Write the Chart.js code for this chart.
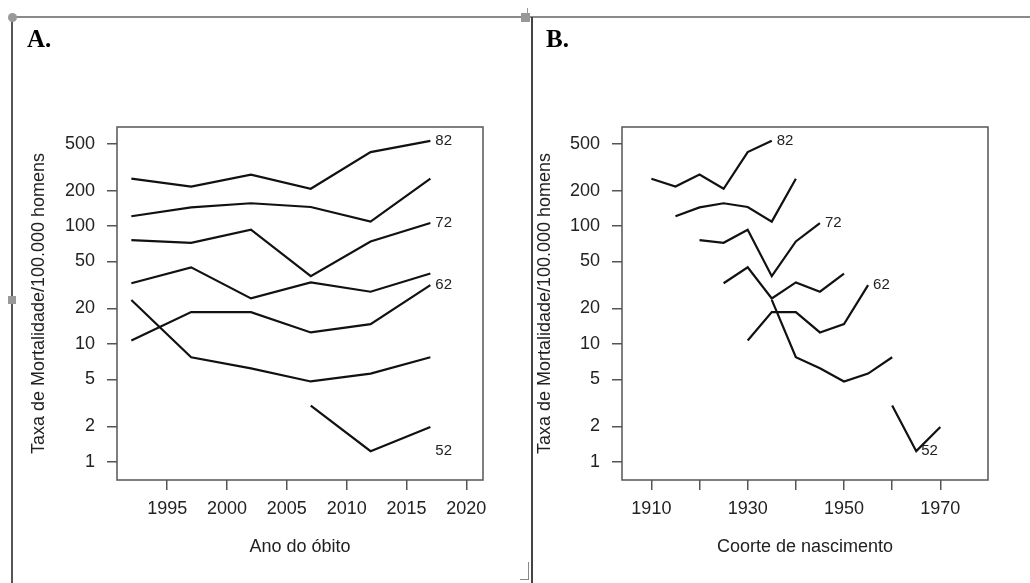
<!DOCTYPE html>
<html>
<head>
<meta charset="utf-8">
<script src="https://cdn.jsdelivr.net/npm/chart.js@4.4.0/dist/chart.umd.min.js"></script>
<style>
body { margin: 0; background: #fff; }
#wrap { position: relative; width: 1030px; height: 583px; overflow: hidden; background: #fff; }
canvas { position: absolute; top: 0; }
.ln { position: absolute; background: #7a7a7a; }
.tag { position: absolute; font: bold 25px "Liberation Serif", serif; line-height: 25px; color: #000; }
</style>
</head>
<body>
<div id="wrap">
  <canvas id="graphA" width="520" height="583" style="left:0;width:520px;height:583px"></canvas>
  <canvas id="graphB" width="510" height="583" style="left:520px;width:510px;height:583px"></canvas>

  <!-- frame of the pasted picture -->
  <div class="ln" style="left:12px;top:16px;width:1018px;height:2px;background:#8a8a8a"></div>
  <div class="ln" style="left:11px;top:17px;width:2px;height:566px;background:#555"></div>
  <div class="ln" style="left:531px;top:17px;width:2px;height:566px;background:#444"></div>
  <div class="ln" style="left:8px;top:13px;width:9px;height:9px;border-radius:50%;background:#999"></div>
  <div class="ln" style="left:521px;top:13px;width:9px;height:9px;background:#999"></div>
  <div class="ln" style="left:527px;top:8px;width:1px;height:6px;background:#999"></div>
  <div class="ln" style="left:8px;top:296px;width:8px;height:8px;background:#999"></div>
  <div class="ln" style="left:528px;top:562px;width:1px;height:18px;background:#888"></div>
  <div class="ln" style="left:520px;top:579px;width:9px;height:1px;background:#888"></div>

  <div class="tag" style="left:27px;top:26px">A.</div>
  <div class="tag" style="left:546px;top:26px">B.</div>
</div>

<script>
// ages (start of group) and years of death
const ages = [82, 77, 72, 67, 62, 57, 52];
const deathYears = [1992, 1997, 2002, 2007, 2012, 2017];

// mortality rate per 100.000 men, one array per age group
const rate82 = [252, 216, 273, 207, 424, 528];
const rate77 = [121, 144, 156, 145, 109, 252];
const rate72 = [76, 72, 93, 37.5, 74, 106];
const rate67 = [32.7, 44.6, 24.3, 33.2, 27.7, 39.5];
const rate62 = [10.7, 18.6, 18.6, 12.5, 14.7, 31.5];
const rate57 = [23.6, 7.7, 6.2, 4.8, 5.6, 7.7];
const rate52 = [null, null, null, 3.0, 1.23, 1.97];
const rates = [rate82, rate77, rate72, rate67, rate62, rate57, rate52];

// year - shift = birth cohort as drawn in panel B
const cohortShift = [82, 77, 72, 67, 62, 57, 47];

// ticks
const yTickVals = [1, 2, 5, 10, 20, 50, 100, 200, 500];
const yearTicks = [1995, 2000, 2005, 2010, 2015, 2020];
const cohortTicks = [1910, 1920, 1930, 1940, 1950, 1960, 1970];
const cohortTickLabels = [1910, 1930, 1950, 1970];

// labels at the end of some lines
const endLabels = ['82', '72', '62', '52'];
const endLabelRate = [528, 106, 31.5, 1.23];
const endLabelYearA = [2017, 2017, 2017, 2017];
const endLabelCohortB = [1935, 1945, 1955, 1965];

const fontName = '"Liberation Sans", Arial, sans-serif';
const txtColor = '#222';

// box round the plot + the age labels
const boxAndLabels = {
    id: 'boxAndLabels',
    afterDatasetsDraw(chart, args, opts) {
        const ctx = chart.ctx;
        const a = chart.chartArea;
        ctx.save();
        ctx.strokeStyle = '#555';
        ctx.lineWidth = 1.5;
        ctx.strokeRect(a.left, a.top, a.right - a.left, a.bottom - a.top);
        ctx.font = '15px ' + fontName;
        ctx.fillStyle = txtColor;
        ctx.textAlign = 'left';
        ctx.textBaseline = 'middle';
        opts.xs.forEach((x, i) => {
            ctx.fillText(endLabels[i],
                chart.scales.x.getPixelForValue(x) + 5,
                chart.scales.y.getPixelForValue(endLabelRate[i]));
        });
        ctx.restore();
    }
};

function makePanel(id, xs, xMin, xMax, xTicks, xShown, xTitle, leftW, titlePad, rightPad, labelXs) {
    let datasets = rates.map((r, k) => ({
        label: String(ages[k]),
        data: r.map((v, i) => ({ x: xs(k, i), y: v })).filter(p => p.y !== null),
        borderColor: '#111',
        borderWidth: 2.2,
        pointRadius: 0,
        tension: 0,
        fill: false
    }));

    let ctx = document.getElementById(id).getContext('2d');
    return new Chart(ctx, {
        type: 'line',
        data: { datasets: datasets },
        options: {
            responsive: false,
            animation: false,
            devicePixelRatio: 1,
            layout: { padding: { top: 127, right: rightPad, bottom: 0, left: 0 } },
            plugins: {
                legend: { display: false },
                tooltip: { enabled: false },
                boxAndLabels: { xs: labelXs }
            },
            scales: {
                x: {
                    type: 'linear',
                    min: xMin,
                    max: xMax,
                    afterBuildTicks: s => { s.ticks = xTicks.map(v => ({ value: v })); },
                    afterFit: s => { s.height = 103; },
                    ticks: {
                        autoSkip: false,
                        maxRotation: 0,
                        padding: 8,
                        color: txtColor,
                        font: { family: fontName, size: 18 },
                        callback: v => xShown.includes(v) ? String(v) : ''
                    },
                    grid: { drawOnChartArea: false, tickLength: 10, color: '#555', lineWidth: 1.5 },
                    border: { display: false },
                    title: {
                        display: true,
                        text: xTitle,
                        color: txtColor,
                        font: { family: fontName, size: 18 },
                        padding: { top: 0, bottom: 25 }
                    }
                },
                y: {
                    type: 'logarithmic',
                    min: 0.748,
                    max: 692,
                    afterBuildTicks: s => { s.ticks = yTickVals.map(v => ({ value: v })); },
                    afterFit: s => { s.width = leftW; },
                    ticks: {
                        autoSkip: false,
                        padding: 12,
                        color: txtColor,
                        font: { family: fontName, size: 18 },
                        callback: v => String(v)
                    },
                    grid: { drawOnChartArea: false, tickLength: 10, color: '#555', lineWidth: 1.5 },
                    border: { display: false },
                    title: {
                        display: true,
                        text: 'Taxa de Mortalidade/100.000 homens',
                        color: txtColor,
                        font: { family: fontName, size: 18 },
                        padding: { top: titlePad, bottom: 0 }
                    }
                }
            }
        },
        plugins: [boxAndLabels]
    });
}

var graphA = makePanel('graphA', (k, i) => deathYears[i], 1990.8, 2021.4,
    yearTicks, yearTicks, 'Ano do óbito', 117, 28, 37, endLabelYearA);

var graphB = makePanel('graphB', (k, i) => deathYears[i] - cohortShift[k], 1903.9, 1979.9,
    cohortTicks, cohortTickLabels, 'Coorte de nascimento', 102, 14, 42, endLabelCohortB);
</script>
</body>
</html>
